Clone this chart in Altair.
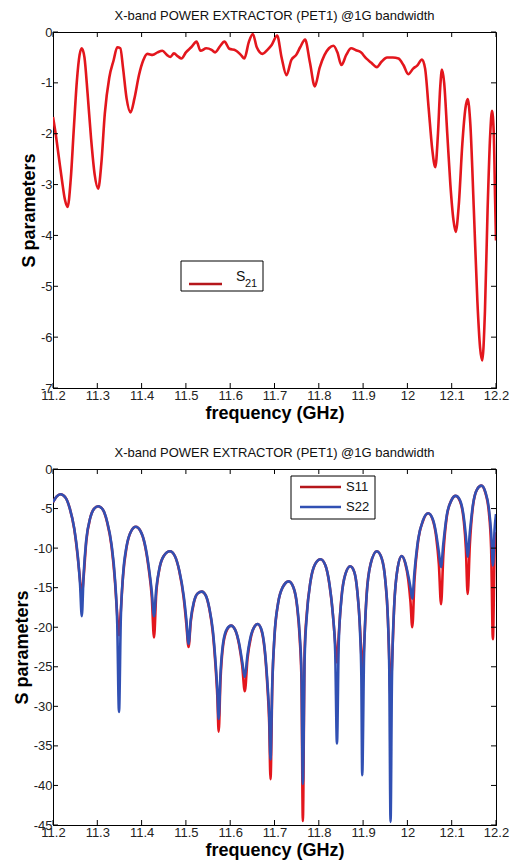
import altair as alt
import pandas as pd

# ---------------- data ----------------
TITLE = "X-band POWER EXTRACTOR (PET1) @1G bandwidth"
X_TICKS = [11.2, 11.3, 11.4, 11.5, 11.6, 11.7, 11.8, 11.9, 12.0, 12.1, 12.2]
Y_TICKS_TOP = [0, -1, -2, -3, -4, -5, -6, -7]
Y_TICKS_BOT = [0, -5, -10, -15, -20, -25, -30, -35, -40, -45]

f21 = [11.200, 11.206, 11.213, 11.220, 11.227, 11.233, 11.240, 11.247, 11.254, 11.260,
       11.265, 11.271, 11.278, 11.286, 11.294, 11.302, 11.309, 11.317, 11.327, 11.337,
       11.345, 11.352, 11.358, 11.366, 11.375, 11.384, 11.394, 11.404, 11.413, 11.425,
       11.436, 11.447, 11.457, 11.465, 11.473, 11.482, 11.490, 11.500, 11.512, 11.524,
       11.533, 11.546, 11.558, 11.566, 11.577, 11.587, 11.598, 11.612, 11.624, 11.632,
       11.642, 11.651, 11.660, 11.673, 11.684, 11.694, 11.706, 11.716, 11.727, 11.738,
       11.749, 11.758, 11.769, 11.780, 11.791, 11.802, 11.813, 11.823, 11.833, 11.842,
       11.851, 11.862, 11.873, 11.884, 11.895, 11.907, 11.918, 11.931, 11.942, 11.954,
       11.967, 11.980, 11.991, 12.002, 12.013, 12.022, 12.033, 12.040, 12.048, 12.056,
       12.063, 12.069, 12.074, 12.078, 12.083, 12.090, 12.097, 12.104, 12.109, 12.116,
       12.124, 12.131, 12.136, 12.142, 12.150, 12.158, 12.164, 12.169, 12.175, 12.181,
       12.187, 12.191, 12.195, 12.198, 12.200]
s21 = [-1.67, -2.00, -2.45, -2.90, -3.30, -3.44, -2.90, -1.90, -0.95, -0.45,
       -0.32, -0.50, -1.20, -2.10, -2.80, -3.08, -2.60, -1.60, -0.90, -0.55,
       -0.30, -0.32, -0.70, -1.30, -1.58, -1.30, -0.85, -0.55, -0.43, -0.45,
       -0.40, -0.37, -0.45, -0.49, -0.42, -0.48, -0.52, -0.40, -0.30, -0.19,
       -0.37, -0.32, -0.35, -0.40, -0.28, -0.19, -0.33, -0.36, -0.45, -0.52,
       -0.20, -0.04, -0.30, -0.43, -0.35, -0.25, -0.07, -0.50, -0.85, -0.55,
       -0.45, -0.30, -0.15, -0.60, -1.07, -0.70, -0.45, -0.32, -0.27, -0.40,
       -0.65, -0.45, -0.32, -0.36, -0.40, -0.52, -0.60, -0.69, -0.58, -0.50,
       -0.50, -0.52, -0.65, -0.83, -0.72, -0.66, -0.54, -0.72, -1.50, -2.30,
       -2.66, -2.00, -1.10, -0.74, -1.00, -2.00, -3.00, -3.70, -3.93, -3.40,
       -2.20, -1.50, -1.32, -1.80, -3.50, -5.30, -6.20, -6.46, -5.50, -3.50,
       -2.00, -1.55, -2.00, -3.30, -4.10]

fS = [11.200, 11.208, 11.217, 11.228, 11.238, 11.248, 11.256, 11.261, 11.265,
      11.269, 11.275, 11.284, 11.293, 11.302, 11.312, 11.322, 11.332, 11.340, 11.345, 11.349,
      11.353, 11.358, 11.366, 11.376, 11.387, 11.397, 11.407, 11.416, 11.423, 11.428,
      11.433, 11.440, 11.450, 11.464, 11.475, 11.485, 11.495, 11.501, 11.506,
      11.511, 11.518, 11.527, 11.536, 11.545, 11.553, 11.561, 11.567, 11.571, 11.574,
      11.578, 11.584, 11.593, 11.602, 11.611, 11.620, 11.627, 11.633,
      11.639, 11.647, 11.655, 11.662, 11.670, 11.678, 11.684, 11.688, 11.691,
      11.695, 11.700, 11.708, 11.718, 11.732, 11.743, 11.751, 11.757, 11.761, 11.764,
      11.768, 11.773, 11.781, 11.792, 11.804, 11.815, 11.824, 11.832, 11.837, 11.841,
      11.845, 11.851, 11.860, 11.871, 11.880, 11.887, 11.893, 11.896, 11.898,
      11.902, 11.908, 11.917, 11.931, 11.942, 11.950, 11.956, 11.959, 11.962,
      11.965, 11.970, 11.978, 11.987, 11.995, 12.002, 12.007, 12.011,
      12.016, 12.024, 12.035, 12.047, 12.057, 12.065, 12.071, 12.076,
      12.081, 12.089, 12.099, 12.109, 12.119, 12.127, 12.132, 12.136,
      12.141, 12.148, 12.157, 12.167, 12.176, 12.184, 12.189, 12.193,
      12.197, 12.200]
s22 = [-4.2, -3.5, -3.2, -3.6, -5.0, -7.5, -11.0, -14.5, -18.6,
       -13.5, -9.0, -6.2, -5.0, -4.7, -5.1, -6.6, -9.5, -14.0, -19.5, -30.7,
       -19.0, -13.5, -9.8, -7.9, -7.3, -7.8, -9.4, -12.3, -15.5, -18.6,
       -15.2, -12.6, -11.0, -10.4, -11.0, -12.8, -16.0, -19.0, -22.1,
       -19.0, -16.8, -15.7, -15.5, -16.0, -17.6, -20.5, -24.5, -28.0, -31.6,
       -26.0, -22.0, -20.2, -19.8, -20.3, -22.0, -24.3, -26.3,
       -23.5, -21.0, -19.9, -19.6, -20.2, -22.8, -27.0, -31.0, -36.7,
       -27.0, -21.0, -17.0, -15.0, -14.2, -15.0, -17.2, -21.0, -26.0, -39.8,
       -24.0, -18.5, -14.3, -12.0, -11.4, -12.2, -14.5, -18.5, -23.0, -34.7,
       -22.0, -16.5, -13.3, -12.3, -13.0, -15.5, -20.5, -26.0, -38.7,
       -24.0, -16.0, -12.0, -10.4, -11.3, -14.0, -19.0, -25.0, -44.6,
       -27.0, -17.5, -12.5, -11.0, -11.8, -13.5, -15.0, -16.4,
       -13.0, -9.0, -6.5, -5.6, -6.3, -8.2, -10.5, -12.4,
       -9.5, -5.8, -4.0, -3.4, -4.0, -6.0, -8.5, -11.1,
       -8.0, -4.5, -2.6, -2.1, -2.9, -5.0, -8.0, -12.2,
       -7.5, -5.7]
s11 = [-4.2, -3.5, -3.2, -3.6, -5.0, -7.6, -11.2, -14.0, -16.0,
       -13.8, -9.2, -6.2, -5.0, -4.7, -5.1, -6.7, -9.7, -14.3, -18.5, -21.0,
       -18.0, -13.6, -9.9, -7.9, -7.3, -7.8, -9.5, -12.6, -16.2, -21.3,
       -15.8, -12.7, -11.0, -10.4, -11.0, -12.9, -16.3, -19.6, -22.5,
       -19.3, -16.9, -15.7, -15.5, -16.0, -17.7, -20.8, -25.0, -28.8, -33.2,
       -26.8, -22.3, -20.3, -19.8, -20.3, -22.2, -24.8, -28.1,
       -24.0, -21.2, -19.9, -19.6, -20.3, -23.0, -27.5, -32.0, -39.2,
       -27.5, -21.2, -17.0, -15.0, -14.2, -15.0, -17.4, -21.5, -27.0, -44.5,
       -23.0, -18.2, -14.3, -12.0, -11.4, -12.2, -14.6, -18.5, -22.0, -24.5,
       -21.0, -16.3, -13.3, -12.3, -13.0, -15.5, -20.0, -23.5, -26.0,
       -22.5, -15.8, -12.0, -10.4, -11.3, -14.0, -19.0, -24.0, -29.0,
       -25.0, -17.5, -12.5, -11.0, -11.9, -14.0, -16.8, -20.0,
       -14.0, -9.2, -6.6, -5.6, -6.4, -8.6, -12.0, -17.1,
       -11.0, -6.0, -4.0, -3.4, -4.1, -6.4, -10.0, -15.8,
       -9.5, -4.7, -2.6, -2.1, -3.0, -5.5, -10.0, -21.5,
       -10.0, -8.0]

# ---------------- style ----------------
W, H = 443, 356
RED = "#e3161d"
BLUE = "#3150b3"
FONT = "Liberation Sans"
TICK = 5

df_top = pd.DataFrame({"freq": f21, "S21": s21})
df_bot = pd.DataFrame({"freq": fS, "S11": s11, "S22": s22})
xt = pd.DataFrame({"t": X_TICKS})

xscale = alt.Scale(domain=[11.2, 12.2], nice=False, zero=False)
LBL = "toString(round(datum.value*10)/10)"
xaxis = alt.Axis(values=X_TICKS, labelExpr=LBL, title="frequency (GHz)")


def xenc(field):
    return alt.X(field, type="quantitative", scale=xscale, axis=xaxis)


def yenc(field, dom, ticks):
    return alt.Y(field, type="quantitative",
                 scale=alt.Scale(domain=dom, nice=False, zero=False),
                 axis=alt.Axis(values=ticks, labelExpr="toString(datum.value)",
                               title="S parameters"))


def tick_layers(dom, yticks):
    yt = pd.DataFrame({"t": yticks})
    b = alt.Chart(xt).mark_rule(color="black", strokeWidth=1).encode(
        x=xenc("t"), y=alt.value(H), y2=alt.value(H - TICK))
    t = alt.Chart(xt).mark_rule(color="black", strokeWidth=1).encode(
        x=xenc("t"), y=alt.value(0), y2=alt.value(TICK))
    l = alt.Chart(yt).mark_rule(color="black", strokeWidth=1).encode(
        y=yenc("t", dom, yticks), x=alt.value(0), x2=alt.value(TICK))
    r = alt.Chart(yt).mark_rule(color="black", strokeWidth=1).encode(
        y=yenc("t", dom, yticks), x=alt.value(W - TICK), x2=alt.value(W))
    return [b, t, l, r]


def title():
    return alt.TitleParams(TITLE, font=FONT, fontSize=13, fontWeight="normal",
                           color="#111", offset=3)


one = pd.DataFrame({"k": [0]})

# ---------------- top panel ----------------
dom_t = [-7, 0]
top_line = alt.Chart(df_top).mark_line(color=RED, strokeWidth=2.6,
                                       interpolate="monotone", clip=True).encode(
    x=xenc("freq"), y=yenc("S21", dom_t, Y_TICKS_TOP))

leg_box_t = alt.Chart(one).mark_rect(fill="white", stroke="black", strokeWidth=1).encode(
    x=alt.value(128), x2=alt.value(210), y=alt.value(229), y2=alt.value(259))
leg_line_t = alt.Chart(one).mark_rule(color="#b5161b", strokeWidth=2.4).encode(
    x=alt.value(136), x2=alt.value(169), y=alt.value(252))
leg_S = alt.Chart(one).mark_text(text="S", font=FONT, fontSize=14, align="left",
                                 baseline="alphabetic", color="#111").encode(
    x=alt.value(183), y=alt.value(249))
leg_21 = alt.Chart(one).mark_text(text="21", font=FONT, fontSize=11, align="left",
                                  baseline="alphabetic", color="#111").encode(
    x=alt.value(192), y=alt.value(255))

top = alt.layer(top_line, *tick_layers(dom_t, Y_TICKS_TOP),
                leg_box_t, leg_line_t, leg_S, leg_21).properties(
    width=W, height=H, title=title())

# ---------------- bottom panel ----------------
dom_b = [-45, 0]
l11 = alt.Chart(df_bot).mark_line(color=RED, strokeWidth=2.6,
                                  interpolate="monotone", clip=True).encode(
    x=xenc("freq"), y=yenc("S11", dom_b, Y_TICKS_BOT))
l22 = alt.Chart(df_bot).mark_line(color=BLUE, strokeWidth=2.6,
                                  interpolate="monotone", clip=True).encode(
    x=xenc("freq"), y=yenc("S22", dom_b, Y_TICKS_BOT))

leg_box_b = alt.Chart(one).mark_rect(fill="white", stroke="black", strokeWidth=1).encode(
    x=alt.value(238), x2=alt.value(322), y=alt.value(7), y2=alt.value(50))
leg_l11 = alt.Chart(one).mark_rule(color="#b5161b", strokeWidth=2.4).encode(
    x=alt.value(247), x2=alt.value(288), y=alt.value(18))
leg_l22 = alt.Chart(one).mark_rule(color=BLUE, strokeWidth=2.4).encode(
    x=alt.value(247), x2=alt.value(288), y=alt.value(38))
leg_t11 = alt.Chart(one).mark_text(text="S11", font=FONT, fontSize=13, align="left",
                                   baseline="middle", color="#111").encode(
    x=alt.value(293), y=alt.value(18))
leg_t22 = alt.Chart(one).mark_text(text="S22", font=FONT, fontSize=13, align="left",
                                   baseline="middle", color="#111").encode(
    x=alt.value(293), y=alt.value(38))

bot = alt.layer(l11, l22, *tick_layers(dom_b, Y_TICKS_BOT),
                leg_box_b, leg_l11, leg_l22, leg_t11, leg_t22).properties(
    width=W, height=H, title=title())

chart = alt.vconcat(top, bot, spacing=23).properties(
    padding={"left": 4, "top": 1, "right": 0, "bottom": 0},
    background="white",
).configure_view(stroke="black", strokeWidth=1).configure_axis(
    labelFont=FONT, labelFontSize=13, labelColor="#222", labelPadding=1,
    labelFlush=False, labelOverlap=False,
    titleFont=FONT, titleFontSize=18, titleFontWeight="bold", titleColor="black",
    titlePadding=2, domainColor="black", domainWidth=1, ticks=False, grid=False,
)

chart.save("out.html", embed_options={"renderer": "svg", "actions": False})
